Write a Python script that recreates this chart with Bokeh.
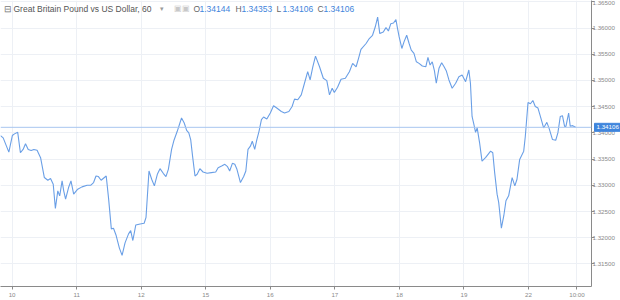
from bokeh.plotting import figure
from bokeh.models import Range1d, LinearAxis, FixedTicker, NumeralTickFormatter, Span, Label
from bokeh.embed import file_html
from bokeh.resources import INLINE

# hours since start of day "10" (hourly bars), and closing prices
hours = [-4.3, -3.3, -1.2, 0.1, 0.9, 2.1, 3.1, 4.1, 5.0, 6.0, 7.1, 8.1, 9.3, 10.6, 12.0, 13.3, 14.3, 15.3,
         16.1, 17.0, 17.7, 18.6, 19.2, 19.9, 21.0, 21.9, 22.9, 24.4, 26.0, 27.9, 29.3, 30.3, 31.2, 32.1, 33.1,
         35.0, 35.9, 36.9, 37.7, 38.7, 39.9, 40.9, 42.0, 43.3, 44.1, 44.9, 46.0, 47.6, 49.1, 49.8, 50.9, 51.9,
         52.9, 54.0, 55.0, 56.2, 57.2, 58.1, 59.3, 60.2, 61.4, 62.4, 63.0, 64.0, 64.9, 65.7, 66.4, 67.1, 68.0,
         68.8, 69.8, 71.0, 72.5, 74.1, 75.7, 76.6, 77.9, 79.1, 80.1, 80.9, 81.9, 82.8, 83.6, 84.9, 86.1, 86.9,
         87.7, 88.6, 89.3, 90.2, 91.0, 91.8, 92.7, 93.5, 94.7, 96.0, 97.2, 98.4, 100.1, 101.3, 102.9, 104.1,
         105.0, 106.2, 107.5, 108.7, 109.9, 110.8, 111.8, 112.8, 114.3, 115.7, 117.0, 118.0, 119.0, 119.8,
         121.0, 122.3, 123.9, 125.4, 126.6, 127.9, 128.8, 129.7, 131.6, 132.8, 134.0, 135.0, 135.9, 136.7,
         138.0, 139.0, 139.9, 140.8, 141.8, 142.7, 143.3, 143.9, 144.9, 145.7, 146.7, 147.6, 148.4, 149.4,
         150.3, 151.3, 152.5, 153.8, 154.6, 155.4, 156.2, 157.0, 157.7, 158.7, 159.7, 160.6, 161.4, 162.4,
         163.6, 164.9, 166.1, 167.3, 168.6, 169.8, 170.4, 171.0, 171.7, 172.3, 172.9, 173.8, 174.7, 176.0,
         177.9, 178.7, 179.4, 180.3, 180.9, 181.9, 182.8, 183.6, 184.6, 185.9, 186.9, 187.7, 188.7, 190.2,
         190.8, 191.8, 192.7, 193.6, 194.5, 195.5, 196.4, 197.6, 198.8, 199.7, 200.9, 202.1, 202.9, 203.8,
         204.6, 205.4, 205.9, 206.9, 207.5, 208.4, 209.5]
prices = [1.33949, 1.33905, 1.33633, 1.33949, 1.33981, 1.34011, 1.33621, 1.33684, 1.33792, 1.33684, 1.33665,
          1.33684, 1.33670, 1.33527, 1.33148, 1.33097, 1.33129, 1.33021, 1.32561, 1.32894, 1.32799, 1.33083,
          1.32894, 1.32737, 1.32958, 1.33083, 1.32831, 1.32926, 1.32970, 1.33002, 1.33002, 1.33053, 1.33178,
          1.33167, 1.33097, 1.33178, 1.32737, 1.32169, 1.32182, 1.32042, 1.31803, 1.31663, 1.31903, 1.32074,
          1.32136, 1.31947, 1.32244, 1.32263, 1.32276, 1.32390, 1.33273, 1.33116, 1.32989, 1.33210, 1.33318,
          1.33229, 1.33167, 1.33305, 1.33684, 1.33860, 1.34030, 1.34189, 1.34284, 1.34189, 1.34049, 1.34000,
          1.33873, 1.33557, 1.33178, 1.33210, 1.33318, 1.33254, 1.33229, 1.33242, 1.33254, 1.33337, 1.33367,
          1.33400, 1.33356, 1.33273, 1.33419, 1.33400, 1.33305, 1.33053, 1.33167, 1.33273, 1.33684, 1.33746,
          1.33841, 1.33684, 1.33873, 1.34030, 1.34252, 1.34303, 1.34265, 1.34379, 1.34517, 1.34474, 1.34409,
          1.34379, 1.34409, 1.34504, 1.34644, 1.34631, 1.34725, 1.34947, 1.35167, 1.35010, 1.35261, 1.35464,
          1.35261, 1.35042, 1.34996, 1.34725, 1.34852, 1.34769, 1.34871, 1.35023, 1.35042, 1.35167, 1.35326,
          1.35261, 1.35421, 1.35591, 1.35705, 1.35799, 1.35862, 1.36019, 1.36208, 1.35894, 1.35924, 1.36008,
          1.35943, 1.36083, 1.36095, 1.36159, 1.35989, 1.35830, 1.35610, 1.35735, 1.35862, 1.35705, 1.35578,
          1.35515, 1.35356, 1.35326, 1.35275, 1.35261, 1.35439, 1.35294, 1.35356, 1.35186, 1.34947, 1.35231,
          1.35337, 1.35261, 1.35186, 1.35010, 1.34852, 1.34947, 1.35072, 1.35104, 1.34977, 1.35199, 1.34947,
          1.34314, 1.34157, 1.34011, 1.34095, 1.33811, 1.33462, 1.33527, 1.33651, 1.33621, 1.33242, 1.32831,
          1.32674, 1.32182, 1.32420, 1.32705, 1.32799, 1.33148, 1.32989, 1.33116, 1.33494, 1.33651, 1.33936,
          1.34580, 1.34555, 1.34617, 1.34504, 1.34474, 1.34314, 1.34095, 1.34201, 1.34076, 1.33873, 1.33860,
          1.34000, 1.34314, 1.34328, 1.34125, 1.34125, 1.34379, 1.34125, 1.34138, 1.34106]

tick_hours = [0, 24, 48, 72, 96, 120, 144, 168, 192, 210]
tick_labels = ["10", "11", "12", "15", "16", "17", "18", "19", "22", "10:00"]
price_ticks = [1.315, 1.320, 1.325, 1.330, 1.335, 1.340, 1.345, 1.350, 1.355, 1.360, 1.365]

title_text = "Great Britain Pound vs US Dollar, 60"
ohlc_names = ["O", "H", "L", "C"]
ohlc_values = ["1.34144", "1.34353", "1.34106", "1.34106"]
last_price = 1.34106

FONT = "Liberation Sans"
LINE = "#6a9fe6"
GRID = "#edf0f5"
TAG = "#3f85dc"
AXC = "#8a8a8a"

p = figure(width=620, height=300, output_backend="svg", toolbar_location=None,
           x_range=Range1d(-4.3, 215.4), y_range=Range1d(1.3107, 1.36525),
           x_axis_location=None, y_axis_location=None,
           min_border_left=0, min_border_top=0, min_border_right=0, min_border_bottom=0,
           outline_line_color=None, background_fill_color="white", border_fill_color="white")

def style(ax):
    ax.axis_line_color = AXC
    ax.axis_line_width = 1
    ax.major_tick_line_color = AXC
    ax.major_tick_out = 3
    ax.major_tick_in = 0
    ax.minor_tick_line_color = None
    ax.major_label_text_font = FONT
    ax.major_label_text_font_size = "6.2px"
    ax.major_label_text_color = AXC
    ax.major_label_standoff = 1

xax = LinearAxis(ticker=FixedTicker(ticks=tick_hours),
                 major_label_overrides={t: l for t, l in zip(tick_hours, tick_labels)})
style(xax)
p.add_layout(xax, "below")

# right side: [axis line + ticks] | [last-price tag] | [tick labels drawn back over the tag panel]
yline = LinearAxis(ticker=FixedTicker(ticks=price_ticks))
style(yline)
yline.major_label_text_color = None
p.add_layout(yline, "right")

tag = Label(x=0, y=last_price, x_units="screen", y_units="data",
            text=f"{last_price:.5f}", text_font=FONT, text_font_size="6.2px",
            text_color="white", text_baseline="middle", text_align="left",
            background_fill_color=TAG, border_line_color=TAG, padding=2)
p.add_layout(tag, "right")

ylab = LinearAxis(ticker=FixedTicker(ticks=price_ticks), formatter=NumeralTickFormatter(format="0.00000"))
style(ylab)
ylab.axis_line_color = None
ylab.major_tick_line_color = None
ylab.major_tick_out = 0
ylab.major_label_standoff = -28
p.add_layout(ylab, "right")

p.xgrid.ticker = FixedTicker(ticks=tick_hours)
p.ygrid.ticker = FixedTicker(ticks=price_ticks)
p.xgrid.grid_line_color = GRID
p.ygrid.grid_line_color = GRID

p.add_layout(Span(location=last_price, dimension="width", line_color="#a9c6f0", line_width=1))
p.line(hours, prices, line_color=LINE, line_width=1.1)

# header text
def hdr(xpx, text, color, size="8.5px"):
    p.add_layout(Label(x=xpx, y=278, x_units="screen", y_units="screen", text=text, text_font=FONT,
                       text_font_size=size, text_color=color, text_baseline="middle", text_align="left"))

hdr(3, "⊟", "#777777", "9px")
hdr(13, title_text, "#555555")
hdr(159, "▾", "#9a9a9a", "7px")
hdr(173, "▣▣", "#c8c8c8", "8px")
xs = [193, 235, 276, 317]
for xpx, n, v in zip(xs, ohlc_names, ohlc_values):
    hdr(xpx, n, "#666666")
    hdr(xpx + 6, v, TAG)

with open("out.html", "w") as f:
    f.write(file_html(p, INLINE))
